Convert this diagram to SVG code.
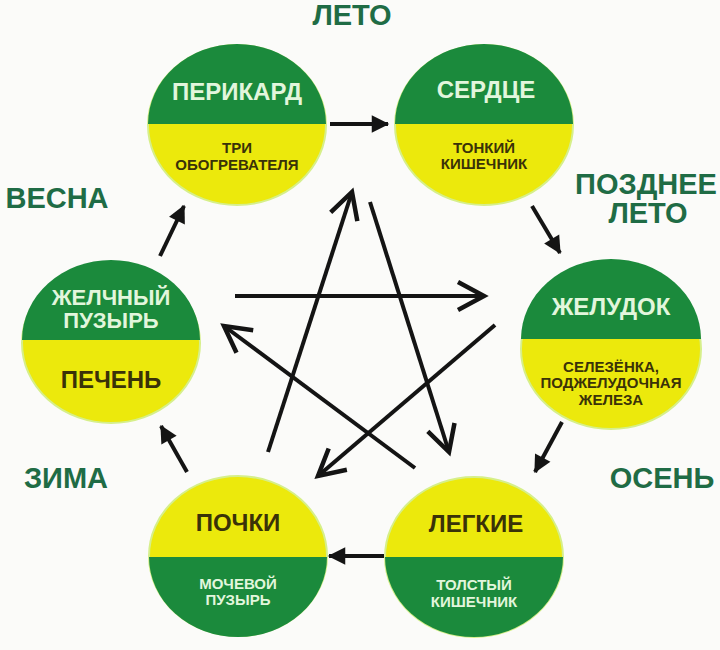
<svg xmlns="http://www.w3.org/2000/svg" width="720" height="650" viewBox="0 0 720 650">
<defs>
<style>
.bg{fill:#fbfbf9}
.yel{fill:#ece90c;stroke:#d6ef8a;stroke-width:2}
.grn{fill:#1b8a3c}
.t{font-family:"Liberation Sans",Arial,sans-serif;font-weight:bold;text-anchor:middle}
.big{font-size:24px}
.sm{font-size:15px}
.lt{fill:#e2f6dc}
.dk{fill:#3a3208}
.season{font-family:"Liberation Sans",Arial,sans-serif;font-weight:bold;text-anchor:middle;fill:#1f6c45;font-size:29px}
.star{stroke:#141414;stroke-width:4;fill:none;marker-end:url(#open)}
.outer{stroke:#141414;stroke-width:4;fill:none;marker-end:url(#solid)}
</style>
<marker id="open" markerUnits="userSpaceOnUse" markerWidth="40" markerHeight="40" viewBox="-30 -20 34 40" refX="0" refY="0" orient="auto">
<path d="M-26,-14 L0,0 L-26,14" fill="none" stroke="#141414" stroke-width="4.5"/>
</marker>
<marker id="solid" markerUnits="userSpaceOnUse" markerWidth="20" markerHeight="20" viewBox="-14 -8 16 16" refX="0" refY="0" orient="auto">
<path d="M-13,-7 L1,0 L-13,7 Z" fill="#141414"/>
</marker>
</defs>
<rect class="bg" x="0" y="0" width="720" height="650"/>

<g id="seasons">
<text class="season" x="352" y="25" font-size="28">ЛЕТО</text>
<text class="season" x="57" y="208">ВЕСНА</text>
<text class="season" x="646" y="194" font-size="23">ПОЗДНЕЕ</text>
<text class="season" x="648" y="223" font-size="24">ЛЕТО</text>
<text class="season" x="66" y="488">ЗИМА</text>
<text class="season" x="662" y="488">ОСЕНЬ</text>
</g>

<g id="pericard">
<ellipse class="yel" cx="237" cy="125" rx="89" ry="80"/>
<path class="grn" d="M148,124 A89,80 0 0 1 326,124 Z"/>
<text class="t big lt" x="237" y="100">ПЕРИКАРД</text>
<text class="t sm dk" x="237" y="153">ТРИ</text>
<text class="t sm dk" x="237" y="170">ОБОГРЕВАТЕЛЯ</text>
</g>

<g id="heart">
<ellipse class="yel" cx="484" cy="125" rx="89" ry="80"/>
<path class="grn" d="M395,124 A89,80 0 0 1 573,124 Z"/>
<text class="t big lt" x="486" y="98">СЕРДЦЕ</text>
<text class="t sm dk" x="484" y="153">ТОНКИЙ</text>
<text class="t sm dk" x="484" y="169">КИШЕЧНИК</text>
</g>

<g id="stomach">
<ellipse class="yel" cx="611" cy="349" rx="90" ry="80"/>
<path class="grn" d="M521,339 A90,80 0 0 1 701,339 Z"/>
<text class="t big lt" x="611" y="315">ЖЕЛУДОК</text>
<text class="t sm dk" x="611" y="372">СЕЛЕЗЁНКА,</text>
<text class="t sm dk" x="611" y="388">ПОДЖЕЛУДОЧНАЯ</text>
<text class="t sm dk" x="611" y="405">ЖЕЛЕЗА</text>
</g>

<g id="lungs">
<ellipse class="yel" cx="474" cy="557" rx="89" ry="80"/>
<path class="grn" d="M385,557 A89,80 0 0 0 563,557 Z"/>
<text class="t big dk" x="476" y="532">ЛЕГКИЕ</text>
<text class="t sm lt" x="474" y="590">ТОЛСТЫЙ</text>
<text class="t sm lt" x="474" y="607">КИШЕЧНИК</text>
</g>

<g id="kidneys">
<ellipse class="yel" cx="238" cy="556" rx="89" ry="80"/>
<path class="grn" d="M149,557 A89,80 0 0 0 327,557 Z"/>
<text class="t big dk" x="238" y="531">ПОЧКИ</text>
<text class="t sm lt" x="238" y="589">МОЧЕВОЙ</text>
<text class="t sm lt" x="238" y="605">ПУЗЫРЬ</text>
</g>

<g id="liver">
<ellipse class="yel" cx="111" cy="343" rx="89" ry="80"/>
<path class="grn" d="M22,340 A89,80 0 0 1 200,340 Z"/>
<text class="t lt" font-size="22" x="111" y="305">ЖЕЛЧНЫЙ</text>
<text class="t lt" font-size="22" x="111" y="328">ПУЗЫРЬ</text>
<text class="t big dk" x="111" y="388">ПЕЧЕНЬ</text>
</g>

<g id="connectors">
<line class="outer" x1="330" y1="124" x2="388" y2="124"/>
<line class="outer" x1="532" y1="206" x2="560" y2="253"/>
<line class="outer" x1="562" y1="422" x2="535" y2="472"/>
<line class="outer" x1="384" y1="556" x2="329" y2="556"/>
<line class="outer" x1="187" y1="472" x2="161" y2="426"/>
<line class="outer" x1="160" y1="256" x2="184" y2="206"/>

<line class="star" x1="268" y1="452" x2="352" y2="192"/>
<line class="star" x1="370" y1="202" x2="449" y2="452"/>
<line class="star" x1="235" y1="296" x2="484" y2="296"/>
<line class="star" x1="495" y1="325" x2="318" y2="476"/>
<line class="star" x1="415" y1="468" x2="224" y2="326"/>
</g>
</svg>
